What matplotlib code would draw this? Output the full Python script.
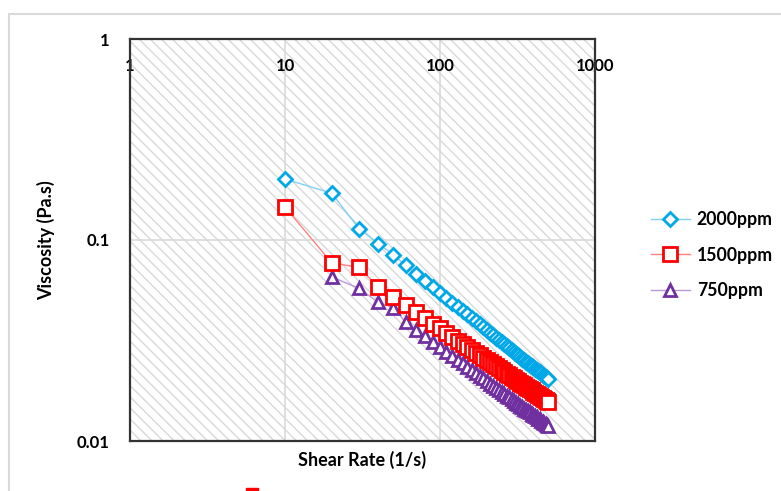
import numpy as np
import matplotlib
matplotlib.use("Agg")
import matplotlib.pyplot as plt
from matplotlib.patches import Rectangle
from matplotlib.lines import Line2D
from matplotlib.ticker import FixedLocator, NullLocator, FixedFormatter

plt.rcParams['font.family'] = ['Lato', 'DejaVu Sans']
plt.rcParams['font.weight'] = 'bold'
plt.rcParams['hatch.linewidth'] = 1.0

# shear rate (1/s)
rate = [10, 20, 30, 40, 50, 60, 70, 80, 90, 100,
        110, 120, 130, 140, 150, 160, 170, 180, 190, 200,
        210, 220, 230, 240, 250, 260, 270, 280, 290, 300,
        310, 320, 330, 340, 350, 360, 370, 380, 390, 400,
        410, 420, 430, 440, 450, 460, 470, 480, 490, 500]

# viscosity (Pa.s)
visc_2000 = [0.201, 0.171, 0.114, 0.0960, 0.0845, 0.0748, 0.0680, 0.0627, 0.0583, 0.0546,
             0.0515, 0.0488, 0.0464, 0.0444, 0.0426, 0.0409, 0.0394, 0.0381, 0.0368, 0.0356,
             0.0346, 0.0336, 0.0327, 0.0319, 0.0311, 0.0303, 0.0296, 0.0290, 0.0284, 0.0278,
             0.0272, 0.0267, 0.0262, 0.0257, 0.0253, 0.0248, 0.0244, 0.0240, 0.0236, 0.0233,
             0.0229, 0.0226, 0.0223, 0.0220, 0.0217, 0.0214, 0.0211, 0.0208, 0.0205, 0.0203]

visc_1500 = [0.146, 0.077, 0.073, 0.0584, 0.0520, 0.0473, 0.0436, 0.0407, 0.0383, 0.0363,
             0.0345, 0.0330, 0.0316, 0.0304, 0.0294, 0.0284, 0.0275, 0.0267, 0.0260, 0.0253,
             0.0246, 0.0241, 0.0235, 0.0230, 0.0225, 0.0220, 0.0216, 0.0212, 0.0208, 0.0205,
             0.0201, 0.0198, 0.0195, 0.0192, 0.0189, 0.0186, 0.0184, 0.0181, 0.0179, 0.0176,
             0.0174, 0.0172, 0.0170, 0.0168, 0.0166, 0.0164, 0.0162, 0.0160, 0.0159, 0.0157]

rate_750 = rate[1:]
visc_750 = [0.0655, 0.0575, 0.0490, 0.0460, 0.0390, 0.0358, 0.0332, 0.0311, 0.0293,
            0.0278, 0.0265, 0.0253, 0.0243, 0.0234, 0.0225, 0.0218, 0.0211, 0.0205, 0.0199,
            0.0193, 0.0188, 0.0184, 0.0180, 0.0175, 0.0171, 0.0168, 0.0165, 0.0161, 0.0158,
            0.0155, 0.0153, 0.0150, 0.0148, 0.0145, 0.0143, 0.0141, 0.0139, 0.0137, 0.0135,
            0.0133, 0.0131, 0.0129, 0.0128, 0.0126, 0.0125, 0.0123, 0.0122, 0.0120, 0.0119]

xticks = [1, 10, 100, 1000]
xtick_labels = ['1', '10', '100', '1000']
yticks = [0.01, 0.1, 1]
ytick_labels = ['0.01', '0.1', '1']

W, H = 781, 491
fig = plt.figure(figsize=(W / 100, H / 100), dpi=100)
fig.patch.set_facecolor('white')

# chart area border (runs off the right and bottom edges)
fig.add_artist(Rectangle((9 / W, -0.2), 1.2, 0.2 + 1 - 14 / H, transform=fig.transFigure,
                         fill=False, edgecolor='#d9d9d9', linewidth=1.5))
# stray red marker peeking in from below
fig.add_artist(Line2D([252 / W], [-3 / H], transform=fig.transFigure, marker='s',
                      markersize=9, markerfacecolor='#ff0000', markeredgecolor='#ff0000',
                      clip_on=False))

ax = fig.add_axes([130 / W, 1 - 441 / H, 465 / W, 402 / H])
ax.set_xscale('log')
ax.set_yscale('log')
ax.set_xlim(1, 1000)
ax.set_ylim(0.01, 1)

# hatched plot area
ax.add_patch(Rectangle((0, 0), 1, 1, transform=ax.transAxes, facecolor='white',
                       edgecolor='#d8d8d8', linewidth=0, hatch='\\\\\\', zorder=0))

ax.xaxis.set_major_locator(FixedLocator(xticks))
ax.xaxis.set_major_formatter(FixedFormatter(xtick_labels))
ax.xaxis.set_minor_locator(NullLocator())
ax.yaxis.set_major_locator(FixedLocator(yticks))
ax.yaxis.set_major_formatter(FixedFormatter(ytick_labels))
ax.yaxis.set_minor_locator(NullLocator())

ax.tick_params(axis='x', bottom=False, labelbottom=False, top=False, labeltop=True,
               pad=-29, labelsize=12)
ax.tick_params(axis='y', left=False, pad=11, labelsize=12)
ax.grid(True, which='major', color='#d9d9d9', linewidth=1.2, zorder=1)
ax.set_axisbelow(True)

for sp in ax.spines.values():
    sp.set_color('#333333')
    sp.set_linewidth(1.6)

ax.plot(rate, visc_2000, color='#80d0f2', linewidth=1.0, marker='D', markersize=7,
        markerfacecolor='white', markeredgecolor='#00a8e8', markeredgewidth=2.0,
        label='2000ppm', zorder=3)
ax.plot(rate, visc_1500, color='#ff8080', linewidth=1.0, marker='s', markersize=9.5,
        markerfacecolor='white', markeredgecolor='#ff0000', markeredgewidth=2.0,
        label='1500ppm', zorder=4)
ax.plot(rate_750, visc_750, color='#b898d8', linewidth=1.0, marker='^', markersize=8.5,
        markerfacecolor='white', markeredgecolor='#7030a0', markeredgewidth=2.0,
        label='750ppm', zorder=3)

ax.set_xlabel('Shear Rate (1/s)', fontsize=13, fontweight='bold', labelpad=7)
ax.set_ylabel('Viscosity (Pa.s)', fontsize=13, fontweight='bold', labelpad=16)

leg = ax.legend(loc='center left', bbox_to_anchor=(635 / W, 1 - 255 / H),
                bbox_transform=fig.transFigure, frameon=False, fontsize=12.7,
                handlelength=2.2, labelspacing=1.05, handletextpad=0.4)

fig.savefig('out.png', dpi=100)
